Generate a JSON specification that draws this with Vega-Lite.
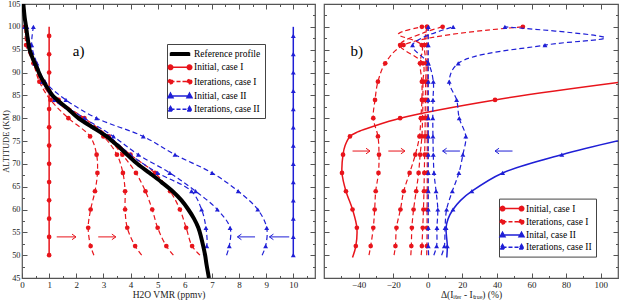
{
  "$schema": "https://vega.github.io/schema/vega-lite/v6.json",
  "padding": {"left": 0, "right": 0, "top": -2, "bottom": 0},
  "background": "white",
  "spacing": 5,
  "config": {
    "view": {"stroke": "#555", "strokeWidth": 1.2},
    "axis": {"labelFont": "Liberation Serif", "titleFont": "Liberation Serif", "labelFontSize": 9, "titleFontSize": 9.5, "titleFontWeight": "normal", "tickColor": "#555", "labelColor": "#222", "titleColor": "#222", "grid": false, "domain": false, "labelFlush": false, "minExtent": 0},
    "text": {"font": "Liberation Serif"}
  },
  "resolve": {"scale": {"fill": "independent", "stroke": "independent", "shape": "independent", "strokeDash": "independent"}},
  "datasets": {
    "a": [
      {"series":"Reference profile","run":0,"alt":105,"value":0.05},{"series":"Reference profile","run":0,"alt":102,"value":0.1},{"series":"Reference profile","run":0,"alt":100,"value":0.15},{"series":"Reference profile","run":0,"alt":97,"value":0.22},{"series":"Reference profile","run":0,"alt":95,"value":0.28},{"series":"Reference profile","run":0,"alt":93,"value":0.4},{"series":"Reference profile","run":0,"alt":91,"value":0.55},{"series":"Reference profile","run":0,"alt":89,"value":0.7},{"series":"Reference profile","run":0,"alt":87,"value":0.9},{"series":"Reference profile","run":0,"alt":85,"value":1.12},{"series":"Reference profile","run":0,"alt":84,"value":1.3},{"series":"Reference profile","run":0,"alt":83,"value":1.5},{"series":"Reference profile","run":0,"alt":82,"value":1.7},{"series":"Reference profile","run":0,"alt":81,"value":1.88},{"series":"Reference profile","run":0,"alt":80,"value":2.08},{"series":"Reference profile","run":0,"alt":79,"value":2.33},{"series":"Reference profile","run":0,"alt":78,"value":2.6},{"series":"Reference profile","run":0,"alt":77,"value":2.87},{"series":"Reference profile","run":0,"alt":76,"value":3.12},{"series":"Reference profile","run":0,"alt":75,"value":3.32},{"series":"Reference profile","run":0,"alt":74,"value":3.52},{"series":"Reference profile","run":0,"alt":72,"value":3.88},{"series":"Reference profile","run":0,"alt":70,"value":4.25},{"series":"Reference profile","run":0,"alt":68,"value":4.7},{"series":"Reference profile","run":0,"alt":66,"value":5.14},{"series":"Reference profile","run":0,"alt":64,"value":5.55},{"series":"Reference profile","run":0,"alt":62,"value":5.88},{"series":"Reference profile","run":0,"alt":60,"value":6.13},{"series":"Reference profile","run":0,"alt":58,"value":6.34},{"series":"Reference profile","run":0,"alt":56,"value":6.5},{"series":"Reference profile","run":0,"alt":54,"value":6.6},{"series":"Reference profile","run":0,"alt":52,"value":6.68},{"series":"Reference profile","run":0,"alt":50,"value":6.75},{"series":"Reference profile","run":0,"alt":48,"value":6.8},{"series":"Reference profile","run":0,"alt":46,"value":6.86},{"series":"Reference profile","run":0,"alt":45,"value":6.89},

      {"series":"Initial, case I","run":0,"alt":50,"value":1},{"series":"Initial, case I","run":0,"alt":54,"value":1},{"series":"Initial, case I","run":0,"alt":58,"value":1},{"series":"Initial, case I","run":0,"alt":62,"value":1},{"series":"Initial, case I","run":0,"alt":66,"value":1},{"series":"Initial, case I","run":0,"alt":70,"value":1},{"series":"Initial, case I","run":0,"alt":74,"value":1},{"series":"Initial, case I","run":0,"alt":78,"value":1},{"series":"Initial, case I","run":0,"alt":82,"value":1},{"series":"Initial, case I","run":0,"alt":86,"value":1},{"series":"Initial, case I","run":0,"alt":90,"value":1},{"series":"Initial, case I","run":0,"alt":94,"value":1},{"series":"Initial, case I","run":0,"alt":98,"value":1},{"series":"Initial, case I","run":0,"alt":100,"value":1},

      {"series":"Initial, case II","run":0,"alt":50,"value":10},{"series":"Initial, case II","run":0,"alt":54,"value":10},{"series":"Initial, case II","run":0,"alt":58,"value":10},{"series":"Initial, case II","run":0,"alt":62,"value":10},{"series":"Initial, case II","run":0,"alt":66,"value":10},{"series":"Initial, case II","run":0,"alt":70,"value":10},{"series":"Initial, case II","run":0,"alt":74,"value":10},{"series":"Initial, case II","run":0,"alt":78,"value":10},{"series":"Initial, case II","run":0,"alt":82,"value":10},{"series":"Initial, case II","run":0,"alt":86,"value":10},{"series":"Initial, case II","run":0,"alt":90,"value":10},{"series":"Initial, case II","run":0,"alt":94,"value":10},{"series":"Initial, case II","run":0,"alt":98,"value":10},{"series":"Initial, case II","run":0,"alt":100,"value":10},

      {"series":"Iterations, case I","run":1,"alt":50,"value":2.65},{"series":"Iterations, case I","run":1,"alt":52,"value":2.53},{"series":"Iterations, case I","run":1,"alt":56,"value":2.44},{"series":"Iterations, case I","run":1,"alt":60,"value":2.53},{"series":"Iterations, case I","run":1,"alt":64,"value":2.69},{"series":"Iterations, case I","run":1,"alt":68,"value":2.78},{"series":"Iterations, case I","run":1,"alt":72,"value":2.75},{"series":"Iterations, case I","run":1,"alt":76,"value":2.51},{"series":"Iterations, case I","run":1,"alt":80,"value":1.71},{"series":"Iterations, case I","run":1,"alt":84,"value":1.05},{"series":"Iterations, case I","run":1,"alt":88,"value":0.64},{"series":"Iterations, case I","run":1,"alt":92,"value":0.42},{"series":"Iterations, case I","run":1,"alt":96,"value":0.15},{"series":"Iterations, case I","run":1,"alt":100,"value":0.11},
      {"series":"Iterations, case I","run":2,"alt":50,"value":4.41},{"series":"Iterations, case I","run":2,"alt":52,"value":4.17},{"series":"Iterations, case I","run":2,"alt":56,"value":3.88},{"series":"Iterations, case I","run":2,"alt":60,"value":3.8},{"series":"Iterations, case I","run":2,"alt":64,"value":3.8},{"series":"Iterations, case I","run":2,"alt":68,"value":3.72},{"series":"Iterations, case I","run":2,"alt":72,"value":3.5},{"series":"Iterations, case I","run":2,"alt":76,"value":3.0},{"series":"Iterations, case I","run":2,"alt":80,"value":2.1},{"series":"Iterations, case I","run":2,"alt":84,"value":1.2},{"series":"Iterations, case I","run":2,"alt":88,"value":0.7},{"series":"Iterations, case I","run":2,"alt":92,"value":0.45},{"series":"Iterations, case I","run":2,"alt":96,"value":0.2},{"series":"Iterations, case I","run":2,"alt":100,"value":0.12},
      {"series":"Iterations, case I","run":3,"alt":50,"value":5.58},{"series":"Iterations, case I","run":3,"alt":52,"value":5.32},{"series":"Iterations, case I","run":3,"alt":56,"value":5.0},{"series":"Iterations, case I","run":3,"alt":60,"value":4.8},{"series":"Iterations, case I","run":3,"alt":64,"value":4.55},{"series":"Iterations, case I","run":3,"alt":68,"value":4.2},{"series":"Iterations, case I","run":3,"alt":72,"value":3.7},{"series":"Iterations, case I","run":3,"alt":76,"value":3.1},{"series":"Iterations, case I","run":3,"alt":80,"value":2.2},{"series":"Iterations, case I","run":3,"alt":84,"value":1.3},{"series":"Iterations, case I","run":3,"alt":88,"value":0.75},{"series":"Iterations, case I","run":3,"alt":92,"value":0.47},{"series":"Iterations, case I","run":3,"alt":96,"value":0.22},{"series":"Iterations, case I","run":3,"alt":100,"value":0.12},
      {"series":"Iterations, case I","run":4,"alt":50,"value":6.56},{"series":"Iterations, case I","run":4,"alt":52,"value":6.27},{"series":"Iterations, case I","run":4,"alt":56,"value":6.05},{"series":"Iterations, case I","run":4,"alt":60,"value":5.82},{"series":"Iterations, case I","run":4,"alt":64,"value":5.46},{"series":"Iterations, case I","run":4,"alt":68,"value":4.9},{"series":"Iterations, case I","run":4,"alt":72,"value":4.0},{"series":"Iterations, case I","run":4,"alt":76,"value":3.2},{"series":"Iterations, case I","run":4,"alt":80,"value":2.3},{"series":"Iterations, case I","run":4,"alt":84,"value":1.35},{"series":"Iterations, case I","run":4,"alt":88,"value":0.8},{"series":"Iterations, case I","run":4,"alt":92,"value":0.5},{"series":"Iterations, case I","run":4,"alt":96,"value":0.25},{"series":"Iterations, case I","run":4,"alt":100,"value":0.14},

      {"series":"Iterations, case II","run":1,"alt":50,"value":8.85},{"series":"Iterations, case II","run":1,"alt":52,"value":8.98},{"series":"Iterations, case II","run":1,"alt":56,"value":9.02},{"series":"Iterations, case II","run":1,"alt":60,"value":8.69},{"series":"Iterations, case II","run":1,"alt":64,"value":7.97},{"series":"Iterations, case II","run":1,"alt":68,"value":7.01},{"series":"Iterations, case II","run":1,"alt":72,"value":5.64},{"series":"Iterations, case II","run":1,"alt":76,"value":4.47},{"series":"Iterations, case II","run":1,"alt":80,"value":2.75},{"series":"Iterations, case II","run":1,"alt":84,"value":1.62},{"series":"Iterations, case II","run":1,"alt":88,"value":0.85},{"series":"Iterations, case II","run":1,"alt":92,"value":0.55},{"series":"Iterations, case II","run":1,"alt":96,"value":0.36},{"series":"Iterations, case II","run":1,"alt":100,"value":0.42},
      {"series":"Iterations, case II","run":2,"alt":50,"value":7.54},{"series":"Iterations, case II","run":2,"alt":52,"value":7.64},{"series":"Iterations, case II","run":2,"alt":56,"value":7.67},{"series":"Iterations, case II","run":2,"alt":60,"value":7.2},{"series":"Iterations, case II","run":2,"alt":64,"value":6.4},{"series":"Iterations, case II","run":2,"alt":68,"value":5.45},{"series":"Iterations, case II","run":2,"alt":72,"value":4.29},{"series":"Iterations, case II","run":2,"alt":76,"value":3.37},{"series":"Iterations, case II","run":2,"alt":80,"value":2.3},{"series":"Iterations, case II","run":2,"alt":84,"value":1.3},{"series":"Iterations, case II","run":2,"alt":88,"value":0.8},{"series":"Iterations, case II","run":2,"alt":92,"value":0.5},{"series":"Iterations, case II","run":2,"alt":96,"value":0.3},{"series":"Iterations, case II","run":2,"alt":100,"value":0.18},
      {"series":"Iterations, case II","run":3,"alt":50,"value":6.68},{"series":"Iterations, case II","run":3,"alt":52,"value":6.81},{"series":"Iterations, case II","run":3,"alt":56,"value":6.78},{"series":"Iterations, case II","run":3,"alt":60,"value":6.62},{"series":"Iterations, case II","run":3,"alt":64,"value":6.25},{"series":"Iterations, case II","run":3,"alt":68,"value":5.0},{"series":"Iterations, case II","run":3,"alt":72,"value":4.0},{"series":"Iterations, case II","run":3,"alt":76,"value":3.2},{"series":"Iterations, case II","run":3,"alt":80,"value":2.15},{"series":"Iterations, case II","run":3,"alt":84,"value":1.2},{"series":"Iterations, case II","run":3,"alt":88,"value":0.75},{"series":"Iterations, case II","run":3,"alt":92,"value":0.47},{"series":"Iterations, case II","run":3,"alt":96,"value":0.25},{"series":"Iterations, case II","run":3,"alt":100,"value":0.1}
    ],
    "b": [
      {"series":"Initial, case I","run":0,"alt":49.5,"value":-43.5},{"series":"Initial, case I","run":0,"alt":52,"value":-41.6},{"series":"Initial, case I","run":0,"alt":56,"value":-41},{"series":"Initial, case I","run":0,"alt":60,"value":-43.5},{"series":"Initial, case I","run":0,"alt":64,"value":-47.3},{"series":"Initial, case I","run":0,"alt":68,"value":-49.6},{"series":"Initial, case I","run":0,"alt":72,"value":-49},{"series":"Initial, case I","run":0,"alt":74,"value":-47.8},{"series":"Initial, case I","run":0,"alt":76,"value":-45},{"series":"Initial, case I","run":0,"alt":77,"value":-40.5},{"series":"Initial, case I","run":0,"alt":78,"value":-33},{"series":"Initial, case I","run":0,"alt":80,"value":-16},{"series":"Initial, case I","run":0,"alt":84,"value":38.9},{"series":"Initial, case I","run":0,"alt":88,"value":114},

      {"series":"Inital, case II","run":0,"alt":49.5,"value":11},{"series":"Inital, case II","run":0,"alt":52,"value":11.3},{"series":"Inital, case II","run":0,"alt":56,"value":10.6},{"series":"Inital, case II","run":0,"alt":58,"value":11.8},{"series":"Inital, case II","run":0,"alt":60,"value":14.6},{"series":"Inital, case II","run":0,"alt":62,"value":19},{"series":"Inital, case II","run":0,"alt":64,"value":25.5},{"series":"Inital, case II","run":0,"alt":68,"value":43.3},{"series":"Inital, case II","run":0,"alt":72,"value":77.5},{"series":"Inital, case II","run":0,"alt":76,"value":121},

      {"series":"Iterations, case I","run":1,"alt":50,"value":-34},{"series":"Iterations, case I","run":1,"alt":52,"value":-33},{"series":"Iterations, case I","run":1,"alt":56,"value":-31.5},{"series":"Iterations, case I","run":1,"alt":60,"value":-30.7},{"series":"Iterations, case I","run":1,"alt":64,"value":-30.1},{"series":"Iterations, case I","run":1,"alt":68,"value":-28.5},{"series":"Iterations, case I","run":1,"alt":72,"value":-28.2},{"series":"Iterations, case I","run":1,"alt":76,"value":-28.8},{"series":"Iterations, case I","run":1,"alt":80,"value":-31.5},{"series":"Iterations, case I","run":1,"alt":84,"value":-30.5},{"series":"Iterations, case I","run":1,"alt":88,"value":-28.8},{"series":"Iterations, case I","run":1,"alt":92,"value":-24.6},{"series":"Iterations, case I","run":1,"alt":96,"value":-14},{"series":"Iterations, case I","run":1,"alt":100,"value":55},
      {"series":"Iterations, case I","run":2,"alt":50,"value":-19.5},{"series":"Iterations, case I","run":2,"alt":52,"value":-18.7},{"series":"Iterations, case I","run":2,"alt":56,"value":-18.1},{"series":"Iterations, case I","run":2,"alt":60,"value":-15.8},{"series":"Iterations, case I","run":2,"alt":64,"value":-13.9},{"series":"Iterations, case I","run":2,"alt":68,"value":-10.5},{"series":"Iterations, case I","run":2,"alt":72,"value":-7.2},{"series":"Iterations, case I","run":2,"alt":76,"value":-4.8},{"series":"Iterations, case I","run":2,"alt":80,"value":-4},{"series":"Iterations, case I","run":2,"alt":84,"value":-3.4},{"series":"Iterations, case I","run":2,"alt":88,"value":-3.4},{"series":"Iterations, case I","run":2,"alt":92,"value":-4.5},{"series":"Iterations, case I","run":2,"alt":96,"value":-3.5},{"series":"Iterations, case I","run":2,"alt":98.4,"value":-17},{"series":"Iterations, case I","run":2,"alt":100,"value":-3.4},
      {"series":"Iterations, case I","run":3,"alt":50,"value":-9.8},{"series":"Iterations, case I","run":3,"alt":52,"value":-9.5},{"series":"Iterations, case I","run":3,"alt":56,"value":-9.2},{"series":"Iterations, case I","run":3,"alt":60,"value":-8.2},{"series":"Iterations, case I","run":3,"alt":64,"value":-6.7},{"series":"Iterations, case I","run":3,"alt":68,"value":-5.3},{"series":"Iterations, case I","run":3,"alt":72,"value":-4.4},{"series":"Iterations, case I","run":3,"alt":76,"value":-3.4},{"series":"Iterations, case I","run":3,"alt":80,"value":-3},{"series":"Iterations, case I","run":3,"alt":84,"value":-2.8},{"series":"Iterations, case I","run":3,"alt":88,"value":-2.8},{"series":"Iterations, case I","run":3,"alt":92,"value":-2.8},{"series":"Iterations, case I","run":3,"alt":96,"value":-16},{"series":"Iterations, case I","run":3,"alt":98.6,"value":-3},{"series":"Iterations, case I","run":3,"alt":100,"value":8.6},
      {"series":"Iterations, case I","run":4,"alt":50,"value":-3.8},{"series":"Iterations, case I","run":4,"alt":52,"value":-3.4},{"series":"Iterations, case I","run":4,"alt":56,"value":-2.9},{"series":"Iterations, case I","run":4,"alt":60,"value":-2.5},{"series":"Iterations, case I","run":4,"alt":64,"value":-2.2},{"series":"Iterations, case I","run":4,"alt":68,"value":-2},{"series":"Iterations, case I","run":4,"alt":72,"value":-1.8},{"series":"Iterations, case I","run":4,"alt":76,"value":-1.6},{"series":"Iterations, case I","run":4,"alt":80,"value":-1.5},{"series":"Iterations, case I","run":4,"alt":84,"value":-1.4},{"series":"Iterations, case I","run":4,"alt":88,"value":-1.2},{"series":"Iterations, case I","run":4,"alt":92,"value":-1},{"series":"Iterations, case I","run":4,"alt":96,"value":-2},{"series":"Iterations, case I","run":4,"alt":100,"value":-0.5},
      {"series":"Iterations, case I","run":5,"alt":50,"value":-0.6},{"series":"Iterations, case I","run":5,"alt":52,"value":-0.5},{"series":"Iterations, case I","run":5,"alt":56,"value":-0.4},{"series":"Iterations, case I","run":5,"alt":60,"value":-0.4},{"series":"Iterations, case I","run":5,"alt":64,"value":-0.3},{"series":"Iterations, case I","run":5,"alt":68,"value":-0.3},{"series":"Iterations, case I","run":5,"alt":72,"value":-0.3},{"series":"Iterations, case I","run":5,"alt":76,"value":-0.3},{"series":"Iterations, case I","run":5,"alt":80,"value":-0.3},{"series":"Iterations, case I","run":5,"alt":84,"value":-0.3},{"series":"Iterations, case I","run":5,"alt":88,"value":-0.3},{"series":"Iterations, case I","run":5,"alt":92,"value":-0.3},{"series":"Iterations, case I","run":5,"alt":96,"value":-0.5},{"series":"Iterations, case I","run":5,"alt":100,"value":-0.3},

      {"series":"Iterations, case II","run":1,"alt":50,"value":8},{"series":"Iterations, case II","run":1,"alt":52,"value":9.6},{"series":"Iterations, case II","run":1,"alt":56,"value":10},{"series":"Iterations, case II","run":1,"alt":60,"value":10.9},{"series":"Iterations, case II","run":1,"alt":64,"value":14.2},{"series":"Iterations, case II","run":1,"alt":68,"value":18},{"series":"Iterations, case II","run":1,"alt":72,"value":20.3},{"series":"Iterations, case II","run":1,"alt":76,"value":22},{"series":"Iterations, case II","run":1,"alt":80,"value":18.2},{"series":"Iterations, case II","run":1,"alt":84,"value":16.7},{"series":"Iterations, case II","run":1,"alt":88,"value":12.4},{"series":"Iterations, case II","run":1,"alt":92,"value":17.6},{"series":"Iterations, case II","run":1,"alt":96,"value":67.8},{"series":"Iterations, case II","run":1,"alt":97.6,"value":102.5},{"series":"Iterations, case II","run":1,"alt":100,"value":44.6},
      {"series":"Iterations, case II","run":2,"alt":50,"value":3.5},{"series":"Iterations, case II","run":2,"alt":52,"value":5.1},{"series":"Iterations, case II","run":2,"alt":56,"value":5.3},{"series":"Iterations, case II","run":2,"alt":60,"value":5.8},{"series":"Iterations, case II","run":2,"alt":64,"value":4.8},{"series":"Iterations, case II","run":2,"alt":68,"value":3.6},{"series":"Iterations, case II","run":2,"alt":72,"value":3.2},{"series":"Iterations, case II","run":2,"alt":76,"value":3.0},{"series":"Iterations, case II","run":2,"alt":80,"value":2.9},{"series":"Iterations, case II","run":2,"alt":84,"value":3.0},{"series":"Iterations, case II","run":2,"alt":88,"value":3.2},{"series":"Iterations, case II","run":2,"alt":92,"value":0.3},{"series":"Iterations, case II","run":2,"alt":96,"value":-8.8},{"series":"Iterations, case II","run":2,"alt":100,"value":14.7},
      {"series":"Iterations, case II","run":3,"alt":50,"value":0.5},{"series":"Iterations, case II","run":3,"alt":52,"value":0.3},{"series":"Iterations, case II","run":3,"alt":56,"value":0.3},{"series":"Iterations, case II","run":3,"alt":60,"value":0.3},{"series":"Iterations, case II","run":3,"alt":64,"value":0.3},{"series":"Iterations, case II","run":3,"alt":68,"value":0.3},{"series":"Iterations, case II","run":3,"alt":72,"value":0.3},{"series":"Iterations, case II","run":3,"alt":76,"value":0.3},{"series":"Iterations, case II","run":3,"alt":80,"value":0.3},{"series":"Iterations, case II","run":3,"alt":84,"value":0.3},{"series":"Iterations, case II","run":3,"alt":88,"value":0.3},{"series":"Iterations, case II","run":3,"alt":92,"value":0.3},{"series":"Iterations, case II","run":3,"alt":96,"value":0.3},{"series":"Iterations, case II","run":3,"alt":100,"value":0.3}
    ]
  },
  "hconcat": [
    {
      "width": 293,
      "height": 274,
      "data": {"name": "a"},
      "resolve": {"axis": {"x": "independent", "y": "independent"}},
      "layer": [
        {
          "transform": [{"filter": "datum.series === 'Initial, case I'"}],
          "mark": {"type": "line", "color": "#e8141b", "strokeWidth": 1.5, "clip": true},
          "encoding": {
            "x": {"field": "value", "type": "quantitative", "scale": {"domain": [0, 10.8], "nice": false, "zero": false},
              "axis": {"orient": "bottom", "values": [0,1,2,3,4,5,6,7,8,9,10], "title": "H2O VMR (ppmv)", "tickSize": -5, "labelPadding": 7, "titlePadding": 0.5}},
            "y": {"field": "alt", "type": "quantitative", "scale": {"domain": [45, 105], "nice": false, "zero": false},
              "axis": {"orient": "left", "values": [45,50,55,60,65,70,75,80,85,90,95,100,105], "title": "ALTITUDE (KM)", "tickSize": -5, "labelPadding": 7, "labelFontSize": 8.3, "titleFontSize": 8.5, "titlePadding": -3}},
            "order": {"field": "alt"}
          }
        },
        {
          "transform": [{"filter": "datum.series === 'Initial, case I' && datum.alt % 4 === 2"}],
          "mark": {"type": "point", "shape": "circle", "filled": true, "size": 22, "color": "#e8141b", "opacity": 1, "clip": true},
          "encoding": {
            "x": {"field": "value", "type": "quantitative", "axis": {"orient": "bottom", "values": [0.5,1.5,2.5,3.5,4.5,5.5,6.5,7.5,8.5,9.5,10.5], "labels": false, "title": null, "tickSize": -2.5}},
            "y": {"field": "alt", "type": "quantitative", "axis": {"orient": "left", "values": [47.5,52.5,57.5,62.5,67.5,72.5,77.5,82.5,87.5,92.5,97.5,102.5], "labels": false, "title": null, "tickSize": -2.5}}
          }
        },
        {
          "transform": [{"filter": "datum.series === 'Iterations, case I'"}],
          "mark": {"type": "line", "color": "#e8141b", "strokeWidth": 1.2, "strokeDash": [5, 3], "interpolate": "catmull-rom", "clip": true},
          "encoding": {
            "x": {"field": "value", "type": "quantitative", "axis": {"orient": "top", "values": [0,1,2,3,4,5,6,7,8,9,10], "labels": false, "title": null, "tickSize": -5}},
            "y": {"field": "alt", "type": "quantitative", "axis": {"orient": "right", "values": [45,50,55,60,65,70,75,80,85,90,95,100,105], "labels": false, "title": null, "tickSize": -5, "maxExtent": 0}},
            "detail": {"field": "run"},
            "order": {"field": "alt"}
          }
        },
        {
          "transform": [{"filter": "datum.series === 'Iterations, case I' && datum.alt % 4 === 0"}],
          "mark": {"type": "point", "shape": "circle", "filled": true, "size": 22, "color": "#e8141b", "opacity": 1, "clip": true},
          "encoding": {
            "x": {"field": "value", "type": "quantitative", "axis": {"orient": "top", "values": [0.5,1.5,2.5,3.5,4.5,5.5,6.5,7.5,8.5,9.5,10.5], "labels": false, "title": null, "tickSize": -2.5}},
            "y": {"field": "alt", "type": "quantitative", "axis": {"orient": "right", "values": [47.5,52.5,57.5,62.5,67.5,72.5,77.5,82.5,87.5,92.5,97.5,102.5], "labels": false, "title": null, "tickSize": -2.5, "maxExtent": 0}}
          }
        },
        {
          "transform": [{"filter": "datum.series === 'Initial, case II'"}],
          "mark": {"type": "line", "color": "#1f1fd6", "strokeWidth": 1.5, "clip": true},
          "encoding": {
            "x": {"field": "value", "type": "quantitative", "axis": null},
            "y": {"field": "alt", "type": "quantitative", "axis": null},
            "order": {"field": "alt"}
          }
        },
        {
          "transform": [{"filter": "datum.series === 'Initial, case II' && datum.alt % 4 === 2"}],
          "mark": {"type": "point", "shape": "triangle-up", "filled": true, "size": 24, "color": "#1f1fd6", "opacity": 1, "clip": true},
          "encoding": {
            "x": {"field": "value", "type": "quantitative", "axis": null},
            "y": {"field": "alt", "type": "quantitative", "axis": null}
          }
        },
        {
          "transform": [{"filter": "datum.series === 'Iterations, case II'"}],
          "mark": {"type": "line", "color": "#1f1fd6", "strokeWidth": 1.2, "strokeDash": [5, 3], "interpolate": "catmull-rom", "clip": true},
          "encoding": {
            "x": {"field": "value", "type": "quantitative", "axis": null},
            "y": {"field": "alt", "type": "quantitative", "axis": null},
            "detail": {"field": "run"},
            "order": {"field": "alt"}
          }
        },
        {
          "transform": [{"filter": "datum.series === 'Iterations, case II' && datum.alt % 4 === 0"}],
          "mark": {"type": "point", "shape": "triangle-up", "filled": true, "size": 24, "color": "#1f1fd6", "opacity": 1, "clip": true},
          "encoding": {
            "x": {"field": "value", "type": "quantitative", "axis": null},
            "y": {"field": "alt", "type": "quantitative", "axis": null}
          }
        },
        {
          "transform": [{"filter": "datum.series === 'Reference profile'"}],
          "mark": {"type": "line", "color": "black", "strokeWidth": 4, "interpolate": "catmull-rom", "clip": true},
          "encoding": {
            "x": {"field": "value", "type": "quantitative", "axis": null},
            "y": {"field": "alt", "type": "quantitative", "axis": null},
            "order": {"field": "alt"}
          }
        },
        {
          "data": {"values": [{"start": 1.28, "end": 1.99, "alt": 54}, {"start": 2.81, "end": 3.46, "alt": 54}]},
          "mark": {"type": "rule", "color": "#e8141b", "strokeWidth": 1},
          "encoding": {
            "x": {"field": "start", "type": "quantitative", "axis": null},
            "x2": {"field": "end"},
            "y": {"field": "alt", "type": "quantitative", "axis": null}
          }
        },
        {
          "data": {"values": [{"start": 1.28, "end": 1.99, "alt": 54}, {"start": 2.81, "end": 3.46, "alt": 54}]},
          "mark": {"type": "point", "shape": "M-1,-0.7L0,0L-1,0.7", "filled": false, "size": 64, "color": "#e8141b", "strokeWidth": 1, "opacity": 1},
          "encoding": {
            "x": {"field": "end", "type": "quantitative", "axis": null},
            "y": {"field": "alt", "type": "quantitative", "axis": null}
          }
        },
        {
          "data": {"values": [{"start": 8.59, "end": 7.94, "alt": 54}, {"start": 9.85, "end": 9.12, "alt": 54}]},
          "mark": {"type": "rule", "color": "#1f1fd6", "strokeWidth": 1},
          "encoding": {
            "x": {"field": "start", "type": "quantitative", "axis": null},
            "x2": {"field": "end"},
            "y": {"field": "alt", "type": "quantitative", "axis": null}
          }
        },
        {
          "data": {"values": [{"start": 8.59, "end": 7.94, "alt": 54}, {"start": 9.85, "end": 9.12, "alt": 54}]},
          "mark": {"type": "point", "shape": "M1,-0.7L0,0L1,0.7", "filled": false, "size": 64, "color": "#1f1fd6", "strokeWidth": 1, "opacity": 1},
          "encoding": {
            "x": {"field": "end", "type": "quantitative", "axis": null},
            "y": {"field": "alt", "type": "quantitative", "axis": null}
          }
        },
        {
          "data": {"values": [{"value": 2.09, "alt": 94.7, "label": "a)"}]},
          "mark": {"type": "text", "fontSize": 15, "font": "Liberation Serif", "color": "black", "align": "center", "baseline": "middle"},
          "encoding": {
            "x": {"field": "value", "type": "quantitative", "axis": null},
            "y": {"field": "alt", "type": "quantitative", "axis": null},
            "text": {"field": "label"}
          }
        },
        {
          "transform": [{"filter": "false"}],
          "mark": {"type": "point", "filled": true, "opacity": 1},
          "encoding": {
            "x": {"field": "value", "type": "quantitative", "axis": null},
            "y": {"field": "alt", "type": "quantitative", "axis": null},
            "fill": {"field": "series", "type": "nominal",
              "scale": {"domain": ["Reference profile", "Initial, case I", "Iterations, case I", "Initial, case II", "Iterations, case II"], "range": ["black", "#e8141b", "#e8141b", "#1f1fd6", "#1f1fd6"]},
              "legend": {"title": null, "orient": "none", "legendX": 145, "legendY": 40, "strokeColor": "#444", "fillColor": "white", "padding": 4, "labelFont": "Liberation Serif", "labelFontSize": 9.5, "labelColor": "black", "symbolSize": 100, "symbolStrokeWidth": 1.5, "rowPadding": 2.3, "labelOffset": 8, "symbolOffset": 3, "labelLimit": 300}},
            "stroke": {"field": "series", "type": "nominal",
              "scale": {"domain": ["Reference profile", "Initial, case I", "Iterations, case I", "Initial, case II", "Iterations, case II"], "range": ["black", "#e8141b", "#e8141b", "#1f1fd6", "#1f1fd6"]},
              "legend": {"title": null}},
            "shape": {"field": "series", "type": "nominal",
              "scale": {"domain": ["Reference profile", "Initial, case I", "Iterations, case I", "Initial, case II", "Iterations, case II"],
                "range": ["M-1.9,-0.25L1.9,-0.25L1.9,0.25L-1.9,0.25Z", "M-1.9,0L1.9,0M-1.45,0A0.45,0.45,0,1,1,-2.35,0A0.45,0.45,0,1,1,-1.45,0M2.35,0A0.45,0.45,0,1,1,1.45,0A0.45,0.45,0,1,1,2.35,0", "M-1.9,0L1.9,0M-1.45,0A0.45,0.45,0,1,1,-2.35,0A0.45,0.45,0,1,1,-1.45,0M2.35,0A0.45,0.45,0,1,1,1.45,0A0.45,0.45,0,1,1,2.35,0", "M-1.9,0L1.9,0M-1.9,-0.55L-1.4,0.35L-2.4,0.35ZM1.9,-0.55L2.4,0.35L1.4,0.35Z", "M-1.9,0L1.9,0M-1.9,-0.55L-1.4,0.35L-2.4,0.35ZM1.9,-0.55L2.4,0.35L1.4,0.35Z"]},
              "legend": {"title": null}},
            "strokeDash": {"field": "series", "type": "nominal",
              "scale": {"domain": ["Reference profile", "Initial, case I", "Iterations, case I", "Initial, case II", "Iterations, case II"], "range": [[1, 0], [1, 0], [4, 2], [1, 0], [4, 2]]},
              "legend": {"title": null}}
          }
        }
      ]
    },
    {
      "width": 294,
      "height": 274,
      "data": {"name": "b"},
      "resolve": {"axis": {"x": "independent", "y": "independent"}},
      "layer": [
        {
          "transform": [{"filter": "datum.series === 'Initial, case I'"}],
          "mark": {"type": "line", "color": "#e8141b", "strokeWidth": 1.5, "interpolate": "catmull-rom", "clip": true},
          "encoding": {
            "x": {"field": "value", "type": "quantitative", "scale": {"domain": [-60, 110], "nice": false, "zero": false},
              "axis": {"orient": "bottom", "values": [-40,-20,0,20,40,60,80,100], "title": "Δ(Iᵢₜₑᵣ - Iₜᵣᵤₑ) (%)", "tickSize": -5, "labelPadding": 7, "titlePadding": 0.5}},
            "y": {"field": "alt", "type": "quantitative", "scale": {"domain": [45, 105], "nice": false, "zero": false},
              "axis": {"orient": "left", "values": [45,50,55,60,65,70,75,80,85,90,95,100,105], "labels": false, "title": null, "tickSize": -5, "maxExtent": 0}},
            "order": {"field": "alt"}
          }
        },
        {
          "transform": [{"filter": "datum.series === 'Initial, case I' && datum.alt % 4 === 0"}],
          "mark": {"type": "point", "shape": "circle", "filled": true, "size": 22, "color": "#e8141b", "opacity": 1, "clip": true},
          "encoding": {
            "x": {"field": "value", "type": "quantitative", "axis": {"orient": "bottom", "values": [-50,-30,-10,10,30,50,70,90], "labels": false, "title": null, "tickSize": -2.5}},
            "y": {"field": "alt", "type": "quantitative", "axis": {"orient": "left", "values": [47.5,52.5,57.5,62.5,67.5,72.5,77.5,82.5,87.5,92.5,97.5,102.5], "labels": false, "title": null, "tickSize": -2.5, "maxExtent": 0}}
          }
        },
        {
          "transform": [{"filter": "datum.series === 'Iterations, case I'"}],
          "mark": {"type": "line", "color": "#e8141b", "strokeWidth": 1.2, "strokeDash": [5, 3], "interpolate": "catmull-rom", "clip": true},
          "encoding": {
            "x": {"field": "value", "type": "quantitative", "axis": {"orient": "top", "values": [-40,-20,0,20,40,60,80,100], "labels": false, "title": null, "tickSize": -5}},
            "y": {"field": "alt", "type": "quantitative", "axis": {"orient": "right", "values": [45,50,55,60,65,70,75,80,85,90,95,100,105], "labels": false, "title": null, "tickSize": -5, "maxExtent": 0}},
            "detail": {"field": "run"},
            "order": {"field": "alt"}
          }
        },
        {
          "transform": [{"filter": "datum.series === 'Iterations, case I' && datum.alt % 4 === 0"}],
          "mark": {"type": "point", "shape": "circle", "filled": true, "size": 22, "color": "#e8141b", "opacity": 1, "clip": true},
          "encoding": {
            "x": {"field": "value", "type": "quantitative", "axis": {"orient": "top", "values": [-50,-30,-10,10,30,50,70,90], "labels": false, "title": null, "tickSize": -2.5}},
            "y": {"field": "alt", "type": "quantitative", "axis": {"orient": "right", "values": [47.5,52.5,57.5,62.5,67.5,72.5,77.5,82.5,87.5,92.5,97.5,102.5], "labels": false, "title": null, "tickSize": -2.5, "maxExtent": 0}}
          }
        },
        {
          "transform": [{"filter": "datum.series === 'Inital, case II'"}],
          "mark": {"type": "line", "color": "#1f1fd6", "strokeWidth": 1.5, "interpolate": "catmull-rom", "clip": true},
          "encoding": {
            "x": {"field": "value", "type": "quantitative", "axis": null},
            "y": {"field": "alt", "type": "quantitative", "axis": null},
            "order": {"field": "alt"}
          }
        },
        {
          "transform": [{"filter": "datum.series === 'Inital, case II' && datum.alt % 4 === 0"}],
          "mark": {"type": "point", "shape": "triangle-up", "filled": true, "size": 24, "color": "#1f1fd6", "opacity": 1, "clip": true},
          "encoding": {
            "x": {"field": "value", "type": "quantitative", "axis": null},
            "y": {"field": "alt", "type": "quantitative", "axis": null}
          }
        },
        {
          "transform": [{"filter": "datum.series === 'Iterations, case II'"}],
          "mark": {"type": "line", "color": "#1f1fd6", "strokeWidth": 1.2, "strokeDash": [5, 3], "interpolate": "catmull-rom", "clip": true},
          "encoding": {
            "x": {"field": "value", "type": "quantitative", "axis": null},
            "y": {"field": "alt", "type": "quantitative", "axis": null},
            "detail": {"field": "run"},
            "order": {"field": "alt"}
          }
        },
        {
          "transform": [{"filter": "datum.series === 'Iterations, case II' && datum.alt % 4 === 0"}],
          "mark": {"type": "point", "shape": "triangle-up", "filled": true, "size": 24, "color": "#1f1fd6", "opacity": 1, "clip": true},
          "encoding": {
            "x": {"field": "value", "type": "quantitative", "axis": null},
            "y": {"field": "alt", "type": "quantitative", "axis": null}
          }
        },
        {
          "data": {"values": [{"start": -43.5, "end": -33.4, "alt": 72.8}, {"start": -22.8, "end": -13.2, "alt": 72.8}]},
          "mark": {"type": "rule", "color": "#e8141b", "strokeWidth": 1},
          "encoding": {
            "x": {"field": "start", "type": "quantitative", "axis": null},
            "x2": {"field": "end"},
            "y": {"field": "alt", "type": "quantitative", "axis": null}
          }
        },
        {
          "data": {"values": [{"start": -43.5, "end": -33.4, "alt": 72.8}, {"start": -22.8, "end": -13.2, "alt": 72.8}]},
          "mark": {"type": "point", "shape": "M-1,-0.7L0,0L-1,0.7", "filled": false, "size": 64, "color": "#e8141b", "strokeWidth": 1, "opacity": 1},
          "encoding": {
            "x": {"field": "end", "type": "quantitative", "axis": null},
            "y": {"field": "alt", "type": "quantitative", "axis": null}
          }
        },
        {
          "data": {"values": [{"start": 18.6, "end": 8.6, "alt": 72.8}, {"start": 49, "end": 38.9, "alt": 72.8}]},
          "mark": {"type": "rule", "color": "#1f1fd6", "strokeWidth": 1},
          "encoding": {
            "x": {"field": "start", "type": "quantitative", "axis": null},
            "x2": {"field": "end"},
            "y": {"field": "alt", "type": "quantitative", "axis": null}
          }
        },
        {
          "data": {"values": [{"start": 18.6, "end": 8.6, "alt": 72.8}, {"start": 49, "end": 38.9, "alt": 72.8}]},
          "mark": {"type": "point", "shape": "M1,-0.7L0,0L1,0.7", "filled": false, "size": 64, "color": "#1f1fd6", "strokeWidth": 1, "opacity": 1},
          "encoding": {
            "x": {"field": "end", "type": "quantitative", "axis": null},
            "y": {"field": "alt", "type": "quantitative", "axis": null}
          }
        },
        {
          "data": {"values": [{"value": -41, "alt": 94.7, "label": "b)"}]},
          "mark": {"type": "text", "fontSize": 15, "font": "Liberation Serif", "color": "black", "align": "center", "baseline": "middle"},
          "encoding": {
            "x": {"field": "value", "type": "quantitative", "axis": null},
            "y": {"field": "alt", "type": "quantitative", "axis": null},
            "text": {"field": "label"}
          }
        },
        {
          "transform": [{"filter": "false"}],
          "mark": {"type": "point", "filled": true, "opacity": 1},
          "encoding": {
            "x": {"field": "value", "type": "quantitative", "axis": null},
            "y": {"field": "alt", "type": "quantitative", "axis": null},
            "fill": {"field": "series", "type": "nominal",
              "scale": {"domain": ["Initial, case I", "Iterations, case I", "Inital, case II", "Iterations, case II"], "range": ["#e8141b", "#e8141b", "#1f1fd6", "#1f1fd6"]},
              "legend": {"title": null, "orient": "none", "legendX": 175, "legendY": 194.6, "strokeColor": "#444", "fillColor": "white", "padding": 4, "labelFont": "Liberation Serif", "labelFontSize": 9.5, "labelColor": "black", "symbolSize": 100, "symbolStrokeWidth": 1.5, "rowPadding": 1.2, "labelOffset": 8, "symbolOffset": 3, "labelLimit": 300}},
            "stroke": {"field": "series", "type": "nominal",
              "scale": {"domain": ["Initial, case I", "Iterations, case I", "Inital, case II", "Iterations, case II"], "range": ["#e8141b", "#e8141b", "#1f1fd6", "#1f1fd6"]},
              "legend": {"title": null}},
            "shape": {"field": "series", "type": "nominal",
              "scale": {"domain": ["Initial, case I", "Iterations, case I", "Inital, case II", "Iterations, case II"],
                "range": ["M-1.9,0L1.9,0M-1.45,0A0.45,0.45,0,1,1,-2.35,0A0.45,0.45,0,1,1,-1.45,0M2.35,0A0.45,0.45,0,1,1,1.45,0A0.45,0.45,0,1,1,2.35,0", "M-1.9,0L1.9,0M-1.45,0A0.45,0.45,0,1,1,-2.35,0A0.45,0.45,0,1,1,-1.45,0M2.35,0A0.45,0.45,0,1,1,1.45,0A0.45,0.45,0,1,1,2.35,0", "M-1.9,0L1.9,0M-1.9,-0.55L-1.4,0.35L-2.4,0.35ZM1.9,-0.55L2.4,0.35L1.4,0.35Z", "M-1.9,0L1.9,0M-1.9,-0.55L-1.4,0.35L-2.4,0.35ZM1.9,-0.55L2.4,0.35L1.4,0.35Z"]},
              "legend": {"title": null}},
            "strokeDash": {"field": "series", "type": "nominal",
              "scale": {"domain": ["Initial, case I", "Iterations, case I", "Inital, case II", "Iterations, case II"], "range": [[1, 0], [4, 2], [1, 0], [4, 2]]},
              "legend": {"title": null}}
          }
        }
      ]
    }
  ]
}
